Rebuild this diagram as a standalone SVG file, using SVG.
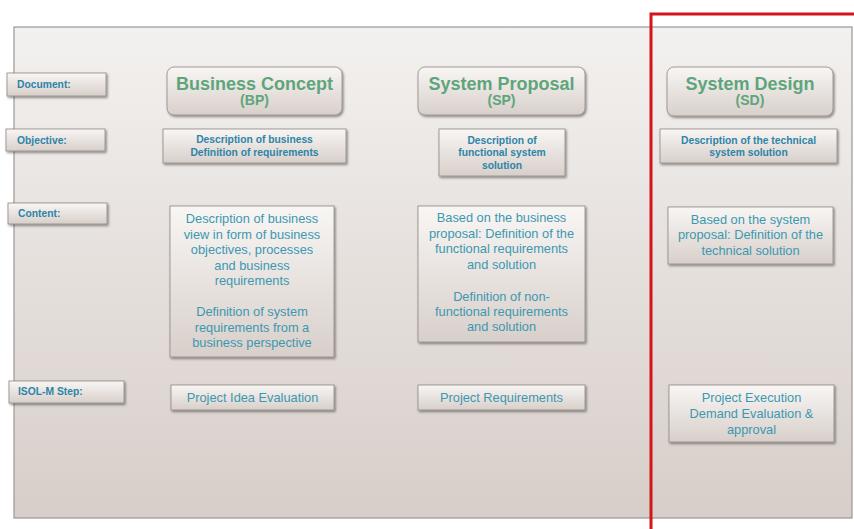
<svg xmlns="http://www.w3.org/2000/svg" width="854" height="529" viewBox="0 0 854 529">
<defs>
<linearGradient id="panelG" x1="0" y1="0" x2="0" y2="1">
<stop offset="0" stop-color="#f3f1ef"/>
<stop offset="1" stop-color="#d7cec9"/>
</linearGradient>
<linearGradient id="boxG" x1="0" y1="0" x2="0" y2="1">
<stop offset="0" stop-color="#f8f6f4"/>
<stop offset="1" stop-color="#d8cfca"/>
</linearGradient>
<filter id="sh" x="-10%" y="-10%" width="130%" height="140%">
<feDropShadow dx="1.2" dy="1.5" stdDeviation="0.9" flood-color="#000" flood-opacity="0.45"/>
</filter>
<style>
.panel{fill:url(#panelG);stroke:#9c9794;stroke-width:1.2}
.box{fill:url(#boxG);stroke:#8f8985;stroke-width:0.8;filter:url(#sh)}
.lbl{font-family:"Liberation Sans",Arial,sans-serif;font-weight:bold;font-size:10.3px;fill:#2d84a8}
.obj{font-family:"Liberation Sans",Arial,sans-serif;font-weight:bold;font-size:10.3px;fill:#2d84a8;text-anchor:middle}
.txt{font-family:"Liberation Sans",Arial,sans-serif;font-size:12.8px;fill:#3c98b1;text-anchor:middle}
.h1{font-family:"Liberation Sans",Arial,sans-serif;font-weight:bold;font-size:18px;fill:#5ea57c;text-anchor:middle}
.h2{font-family:"Liberation Sans",Arial,sans-serif;font-weight:bold;font-size:14px;fill:#5ea57c;text-anchor:middle}
.red{fill:none;stroke:#d3141b;stroke-width:3}
</style>
</defs>
<rect width="854" height="529" fill="#ffffff"/>
<rect class="panel" x="14" y="27" width="838" height="491"/>

<g id="lbl-document"><rect class="box" x="7" y="73" width="99" height="23"/><text class="lbl" x="17" y="88">Document:</text></g>
<g id="lbl-objective"><rect class="box" x="6" y="129" width="99" height="22"/><text class="lbl" x="17" y="144">Objective:</text></g>
<g id="lbl-content"><rect class="box" x="8" y="203" width="99" height="21"/><text class="lbl" x="18" y="217">Content:</text></g>
<g id="lbl-step"><rect class="box" x="9" y="381" width="115" height="22"/><text class="lbl" x="18" y="395">ISOL-M Step:</text></g>

<g id="doc-bp"><rect class="box" x="167" y="67" width="175" height="48" rx="7"/><text class="h1" x="254.5" y="89.5">Business Concept</text><text class="h2" x="254.5" y="105">(BP)</text></g>
<g id="doc-sp"><rect class="box" x="418" y="67" width="167" height="48" rx="7"/><text class="h1" x="501.5" y="89.5">System Proposal</text><text class="h2" x="501.5" y="105">(SP)</text></g>
<g id="doc-sd"><rect class="box" x="667" y="67" width="166" height="49" rx="7"/><text class="h1" x="750" y="89.5">System Design</text><text class="h2" x="750" y="105">(SD)</text></g>

<g id="obj-bp"><rect class="box" x="163" y="129" width="183" height="34"/><text class="obj" x="254.5" y="143">Description of business</text><text class="obj" x="254.5" y="156">Definition of requirements</text></g>
<g id="obj-sp"><rect class="box" x="439" y="129" width="126" height="47"/><text class="obj" x="502" y="143.5">Description of</text><text class="obj" x="502" y="156">functional system</text><text class="obj" x="502" y="168.5">solution</text></g>
<g id="obj-sd"><rect class="box" x="660" y="129" width="177" height="34"/><text class="obj" x="748.5" y="143.5">Description of the technical</text><text class="obj" x="748.5" y="156">system solution</text></g>

<g id="content-bp"><rect class="box" x="170" y="206" width="164" height="151"/>
<text class="txt" x="252" y="223">Description of business</text>
<text class="txt" x="252" y="238.5">view in form of business</text>
<text class="txt" x="252" y="254">objectives, processes</text>
<text class="txt" x="252" y="269.5">and business</text>
<text class="txt" x="252" y="285">requirements</text>
<text class="txt" x="252" y="316">Definition of system</text>
<text class="txt" x="252" y="331.5">requirements from a</text>
<text class="txt" x="252" y="347">business perspective</text></g>

<g id="content-sp"><rect class="box" x="418" y="206" width="167" height="136"/>
<text class="txt" x="501.5" y="222">Based on the business</text>
<text class="txt" x="501.5" y="237.5">proposal: Definition of the</text>
<text class="txt" x="501.5" y="253">functional requirements</text>
<text class="txt" x="501.5" y="268.5">and solution</text>
<text class="txt" x="501.5" y="301">Definition of non-</text>
<text class="txt" x="501.5" y="316">functional requirements</text>
<text class="txt" x="501.5" y="331">and solution</text></g>

<g id="content-sd"><rect class="box" x="668" y="207" width="165" height="57"/>
<text class="txt" x="750.5" y="223.5">Based on the system</text>
<text class="txt" x="750.5" y="239">proposal: Definition of the</text>
<text class="txt" x="750.5" y="254.5">technical solution</text></g>

<g id="step-bp"><rect class="box" x="171" y="385" width="163" height="25"/><text class="txt" x="252.5" y="401.5">Project Idea Evaluation</text></g>
<g id="step-sp"><rect class="box" x="418" y="385" width="167" height="25"/><text class="txt" x="501.5" y="401.5">Project Requirements</text></g>
<g id="step-sd"><rect class="box" x="669" y="385" width="165" height="57"/>
<text class="txt" x="751.5" y="402">Project Execution</text>
<text class="txt" x="751.5" y="418">Demand Evaluation &amp;</text>
<text class="txt" x="751.5" y="434">approval</text></g>

<g id="connectors"></g>
<path class="red" d="M651 529 V14 H854"/>
</svg>
